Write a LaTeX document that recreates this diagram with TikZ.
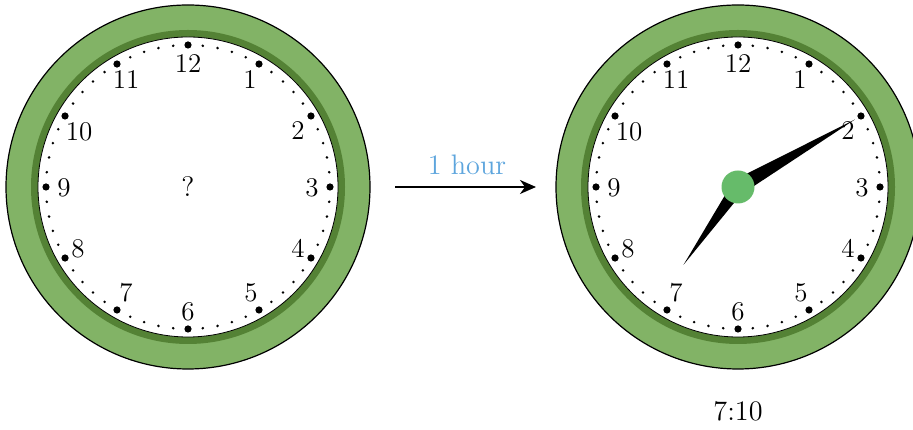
\documentclass[tikz,border=0pt]{standalone}
\usetikzlibrary{arrows.meta}
\definecolor{rimlight}{HTML}{82B366}
\definecolor{rimdark}{HTML}{548235}
\definecolor{hubgreen}{HTML}{66BB6A}
\definecolor{labelblue}{HTML}{5DA5DD}
\tikzset{
  numstyle/.style={font=\fontsize{12}{14}\selectfont, scale=2.25, inner sep=0pt},
  bigtext/.style={font=\fontsize{12}{14}\selectfont, scale=2.35, inner sep=0pt},
  handstyle/.style={fill=black},
}
\newcommand\drawclock[1]{%
  \fill[rimlight, draw=black, line width=1.2pt] (0,0) circle (182pt);
  \fill[rimdark] (0,0) circle (157pt);
  \fill[white, draw=black, line width=0.8pt] (0,0) circle (150pt);
  \foreach \i in {0,...,59} { \fill (90-6*\i:142pt) circle (1.4pt); }
  \foreach \h in {1,...,12} { \fill (90-30*\h:142pt) circle (3.6pt); }
  \foreach \h/\nx/\ny in {1/62/107, 2/110/56, 3/124/-1, 4/110/-61, 5/63/-106, 6/0/-125,
      7/-62/-106, 8/-110/-62, 9/-124/-1, 10/-109/55, 11/-62/107, 12/0/123} {
    \node[numstyle] (#1n\h) at (\nx pt,\ny pt) {\h};
  }
}
\begin{document}
\begin{tikzpicture}
\useasboundingbox (0pt,0pt) rectangle (913pt,430pt);
\clip (0pt,0pt) rectangle (913pt,430pt);
\begin{scope}[shift={(188pt,243pt)}]
  \drawclock{L}
  \node[bigtext] (q) at (0pt,0pt) {?};
\end{scope}
\begin{scope}[shift={(738pt,243pt)}]
  \drawclock{R}
  \fill[handstyle] (30:135pt) -- (120:8pt) -- (210:5pt) -- (300:8pt) -- cycle;
  \fill[handstyle] (235:95pt) -- (325:7pt) -- (55:5pt) -- (145:7pt) -- cycle;
  \fill[hubgreen] (0,0) circle (16.5pt);
  \coordinate (hub) at (0,0);
\end{scope}
\coordinate (arrowstart) at (395pt,243pt);
\coordinate (arrowend) at (536pt,243pt);
\draw[-{Stealth[length=16pt,width=14pt,inset=5pt]}, line width=1.8pt] (arrowstart) -- (arrowend);
\node[bigtext, text=labelblue] (lbl) at (467pt,265pt) {1 hour};
\node[bigtext] (time) at (738pt,19pt) {7:10};
\end{tikzpicture}
\end{document}
